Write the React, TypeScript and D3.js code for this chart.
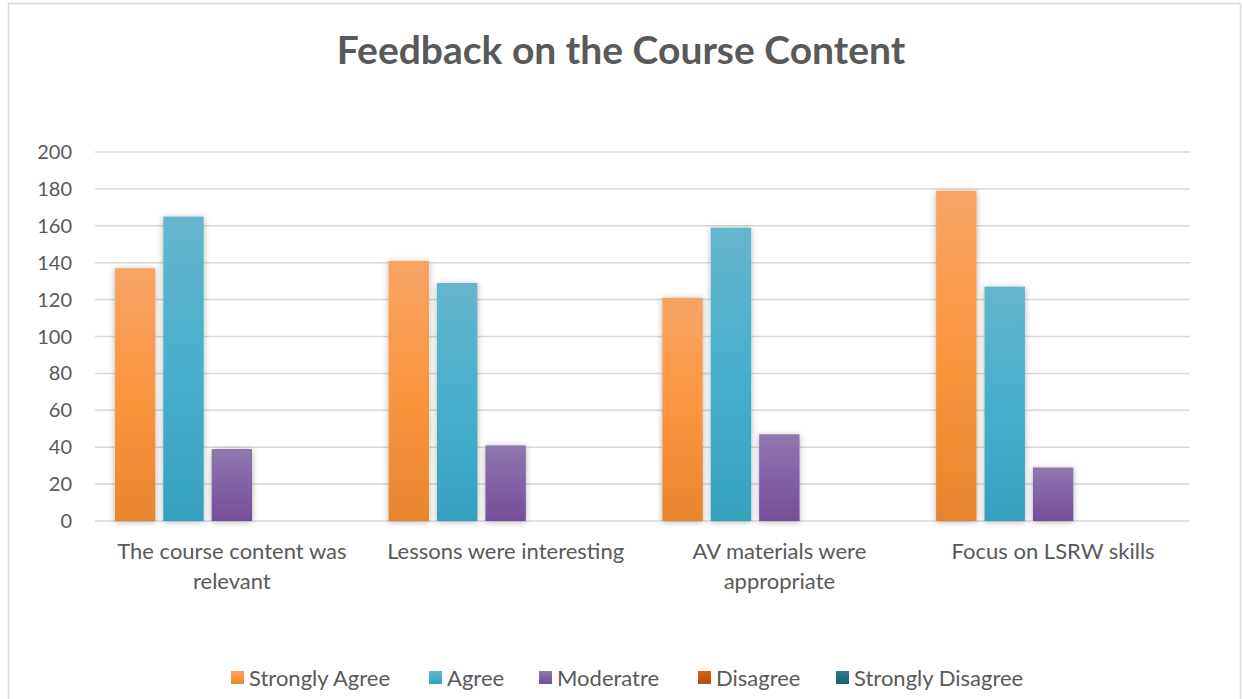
import React from 'react';
import * as d3 from 'd3';

// chart data
const categories = [
  'The course content was relevant',
  'Lessons were interesting',
  'AV materials were appropriate',
  'Focus on LSRW skills',
];
const seriesNames = ['Strongly Agree', 'Agree', 'Moderatre', 'Disagree', 'Strongly Disagree'];
const stronglyAgree = [137, 141, 121, 179];
const agree = [165, 129, 159, 127];
const moderate = [39, 41, 47, 29];
const disagree = [0, 0, 0, 0];
const stronglyDisagree = [0, 0, 0, 0];
const yTicks = [0, 20, 40, 60, 80, 100, 120, 140, 160, 180, 200];

const seriesValues = [stronglyAgree, agree, moderate, disagree, stronglyDisagree];

// gradient stops per series: top, middle, bottom
const fills = [
  ['#F8A466', '#FB963F', '#E7852E'],
  ['#66B5CD', '#47AFCC', '#35A0BE'],
  ['#8F78AE', '#8262A6', '#744F97'],
  ['#C8681E', '#C25A10', '#B4500A'],
  ['#2F7C8F', '#236E82', '#1D6072'],
];

const W = 1242;
const H = 699;
const FONT = 'Lato, "Open Sans", sans-serif';
const TXT = '#595959';

function wrap(label: string, maxChars: number) {
  const words = label.split(' ');
  const lines: string[] = [];
  let cur = '';
  words.forEach(w => {
    const next = cur ? cur + ' ' + w : w;
    if (next.length > maxChars && cur) {
      lines.push(cur);
      cur = w;
    } else {
      cur = next;
    }
  });
  if (cur) lines.push(cur);
  return lines;
}

export default function App() {
  const margin = { left: 95, right: 52, top: 152, bottom: 178 };
  const plotW = W - margin.left - margin.right;
  const plotH = H - margin.top - margin.bottom;

  const x0 = d3.scaleBand<string>().domain(categories).range([0, plotW]).padding(0);
  const x1 = d3.scaleBand<string>()
    .domain(seriesNames)
    .range([0, x0.bandwidth()])
    .paddingInner(0.165)
    .paddingOuter(0.41);
  const y = d3.scaleLinear().domain([0, 200]).range([plotH, 0]);

  const legendX = [231, 429, 539, 698, 836];

  return (
    <svg width={W} height={H} style={{ position: 'absolute', left: 0, top: 0, background: '#fff' }}>
      <defs>
        {fills.map((f, i) => (
          <linearGradient key={i} id={'grad' + i} x1="0" y1="0" x2="0" y2="1">
            <stop offset="0%" stopColor={f[0]} />
            <stop offset="50%" stopColor={f[1]} />
            <stop offset="100%" stopColor={f[2]} />
          </linearGradient>
        ))}
        <filter id="shadow" x="-30%" y="-10%" width="160%" height="120%">
          <feDropShadow dx="0" dy="1" stdDeviation="3" floodColor="#000" floodOpacity="0.3" />
        </filter>
      </defs>

      <rect x={8.5} y={3.5} width={W - 10} height={H} fill="#fff" stroke="#d9d9d9" strokeWidth={1.5} />

      <text x={W / 2} y={64} textAnchor="middle" fontFamily={FONT} fontWeight={700}
        fontSize={39} fill={TXT}>
        Feedback on the Course Content
      </text>

      <g transform={`translate(${margin.left},${margin.top})`}>
        {yTicks.map(t => (
          <g key={t}>
            <line x1={0} x2={plotW} y1={y(t)} y2={y(t)} stroke="#d9d9d9" strokeWidth={1.5} />
            <text x={-23} y={y(t)} dy="0.35em" textAnchor="end" fontFamily={FONT}
              fontSize={20} fill={TXT}>{t}</text>
          </g>
        ))}

        {categories.map((c, ci) => (
          <g key={c} transform={`translate(${x0(c)},0)`}>
            {seriesNames.map((s, si) => {
              const v = seriesValues[si][ci];
              if (!v) return null;
              return (
                <rect key={s} x={x1(s)} y={y(v)} width={x1.bandwidth()} height={plotH - y(v)}
                  fill={`url(#grad${si})`} filter="url(#shadow)" />
              );
            })}
            {wrap(c, 24).map((line, li) => (
              <text key={li} x={x0.bandwidth() / 2} y={plotH + 38 + li * 30} textAnchor="middle"
                fontFamily={FONT} fontSize={22} fill={TXT}>{line}</text>
            ))}
          </g>
        ))}
      </g>

      <g>
        {seriesNames.map((s, i) => (
          <g key={s}>
            <rect x={legendX[i]} y={671} width={13} height={13} fill={`url(#grad${i})`} />
            <text x={legendX[i] + 18} y={678} dy="0.35em" fontFamily={FONT} fontSize={22}
              fill={TXT}>{s}</text>
          </g>
        ))}
      </g>
    </svg>
  );
}
